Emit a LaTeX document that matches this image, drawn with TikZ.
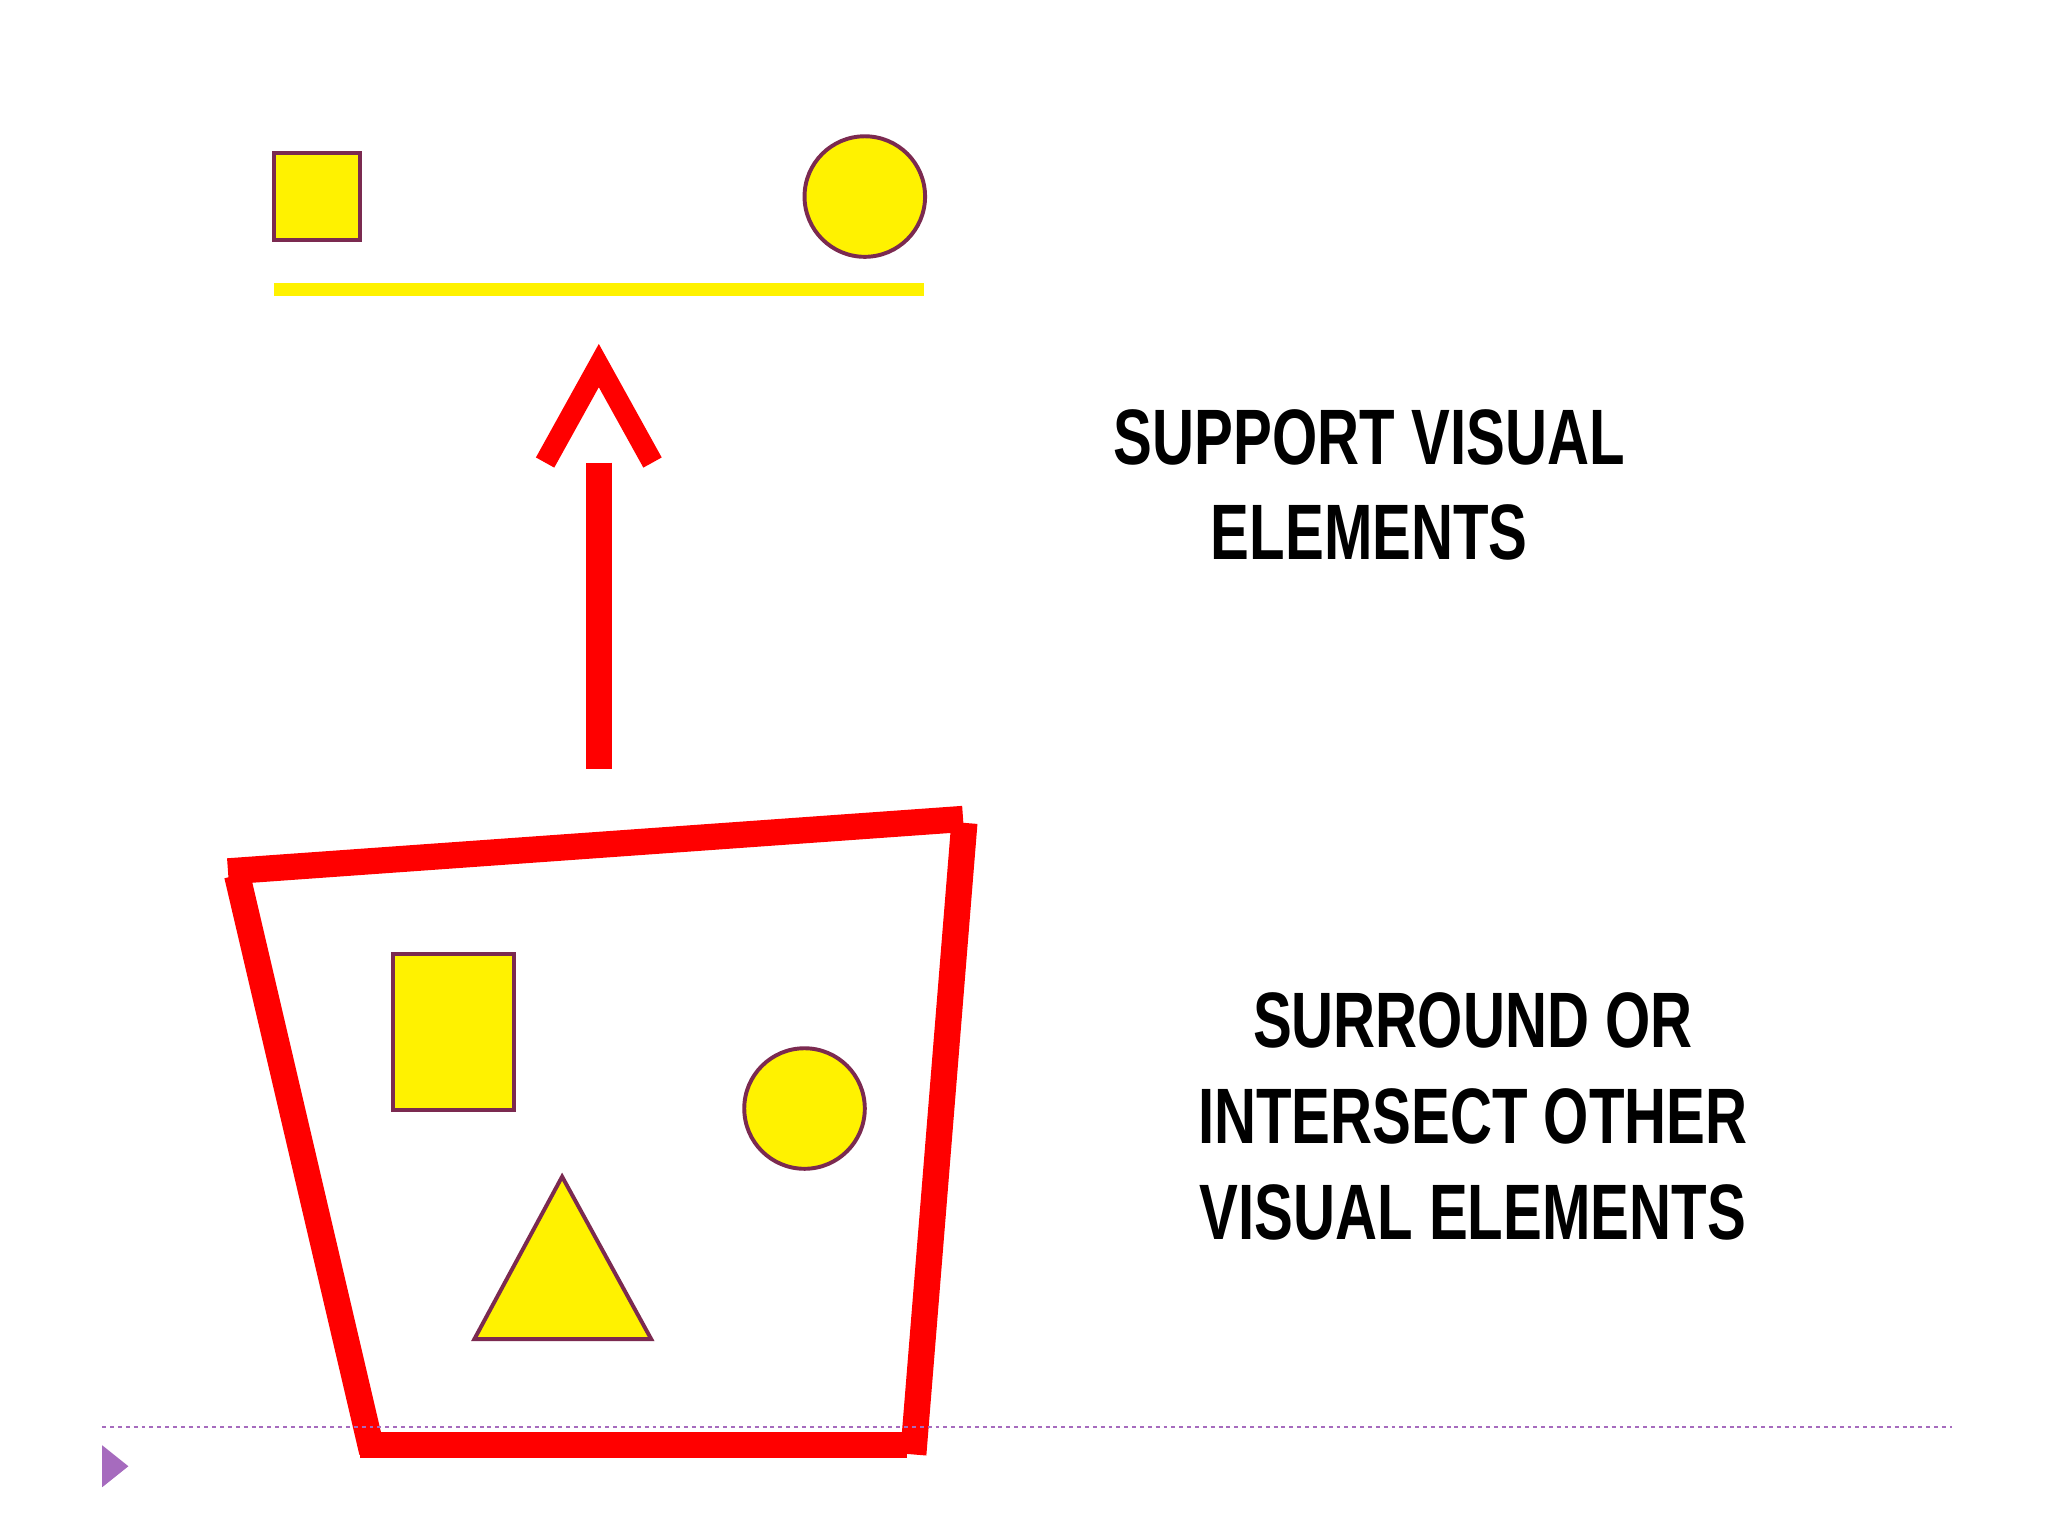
\documentclass[tikz,border=0pt]{standalone}
\usepackage{fontspec}
\setmainfont{Liberation Sans}
\newfontfamily\cond{Liberation Sans}[FakeStretch=0.74]
\definecolor{edge}{HTML}{7B2A50}
\definecolor{rd}{HTML}{FF0000}
\definecolor{pu}{HTML}{A66BBE}
\begin{document}
\begin{tikzpicture}[x=1pt,y=-1pt,
  shp/.style={fill=yellow,draw=edge,line width=3pt},
  red/.style={draw=rd,line width=20pt},
  lbl/.style={font=\cond\bfseries\fontsize{60}{73}\selectfont,align=center,text=black}]
\useasboundingbox (0,0) rectangle (1563,1172);
% top
\draw[shp] (209,117) rectangle (275,183);
\draw[shp] (660,150) circle (46);
\draw[yellow,line width=10pt] (209,221) -- (705,221);
% arrow
\draw[red] (457,353) -- (457,587);
\draw[draw=rd,line width=16pt,miter limit=10] (416,353) -- (457,279) -- (498,353);
% trapezoid
\draw[red] (174,665) -- (735,625);
\draw[red] (736,628) -- (697,1110);
\draw[red] (275,1103) -- (692,1103);
\draw[red] (181,668) -- (284,1108);
\draw[shp] (300,728) rectangle (392,847);
\draw[shp] (614,846) circle (46);
\draw[shp] (362,1022) -- (429,898) -- (497,1022) -- cycle;
% footer
\draw[pu,dashed,line width=1.2pt] (78,1089) -- (1490,1089);
\fill[pu] (78,1103) -- (98,1119) -- (78,1135) -- cycle;
\node[lbl] (t1) at (1045,370) {SUPPORT VISUAL\\ELEMENTS};
\node[lbl] (t2) at (1124,852) {SURROUND OR\\INTERSECT OTHER\\VISUAL ELEMENTS};
\end{tikzpicture}
\end{document}
